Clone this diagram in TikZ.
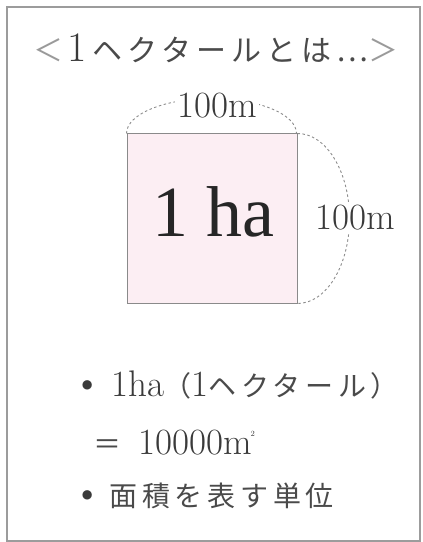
\documentclass[tikz,border=0pt]{standalone}
\usepackage{fontspec}
\usepackage{graphicx}
\newfontfamily\jpfont[LetterSpace=17]{Noto Sans CJK JP}
\newfontfamily\hafont{Liberation Serif}
\definecolor{ink}{HTML}{3A3A3A}
\definecolor{jpink}{HTML}{4A4A4A}
\definecolor{chevgray}{HTML}{9A9A9A}
\definecolor{framegray}{HTML}{9C9C9C}
\definecolor{sqgray}{HTML}{8A8A8A}
\definecolor{sqpink}{HTML}{FCEEF3}
\definecolor{dimgray}{HTML}{8C8C8C}

\begin{document}
\begin{tikzpicture}[x=1pt,y=1pt,
 lbl/.style={font=\fontsize{37}{37}\selectfont,text=ink,inner sep=1pt},
 len/.style={lbl,fill=white,inner sep=2pt,anchor=base},
 line/.style={lbl,anchor=base west,inner sep=0pt},
 dim/.style={draw=dimgray,line width=0.9pt,dash pattern=on 2.5pt off 2.5pt}]
\useasboundingbox (0,0) rectangle (423,542);
\draw[draw=framegray,line width=1.2pt] (7,1) rectangle (420,535);
% title
\node[lbl,anchor=base] (title) at (216,480)
 {\fontsize{30}{30}\selectfont{\jpfont\color{chevgray}＜}\hspace{4pt}{\fontsize{42}{42}\selectfont 1}\hspace{6pt}{\jpfont\color{jpink}ヘクタールとは⋯\color{chevgray}＞}};
% the square and its sides
\node[draw=sqgray,fill=sqpink,line width=1pt,minimum size=170pt,inner sep=0pt] (sq) at (212,323) {};
\node[anchor=base,text=black!85,inner sep=0pt,font=\hafont\fontsize{72}{72}\selectfont] (ha) at (213,305) {1 ha};
\draw[dim] (sq.north west) arc[start angle=180,end angle=0,x radius=85pt,y radius=35pt];
\draw[dim] (sq.north east) arc[start angle=90,end angle=-90,x radius=52pt,y radius=85pt];
\node[len] (top) at (217,424) {100m};
\node[len] (side) at (355,312) {100m};
% notes
\node[line] (note1) at (72,145)
 {{\fontsize{42}{42}\selectfont •}\hspace{9pt}1ha\hspace{-1pt}{\fontsize{28}{28}\jpfont\color{jpink}（}1{\fontsize{28}{28}\jpfont\color{jpink}ヘクタール）}};
\node[line] (note2) at (93,87)
 {{\fontsize{28}{28}\jpfont\color{jpink}＝}\hspace{17pt}10000m\kern-1pt\raisebox{0.5em}{\fontsize{8}{8}\selectfont 2}};
\node[line] (note3) at (72,35)
 {{\fontsize{42}{42}\selectfont •}\hspace{7pt}{\fontsize{28}{28}\jpfont\color{jpink}面積を表す単位}};
\end{tikzpicture}
\end{document}
